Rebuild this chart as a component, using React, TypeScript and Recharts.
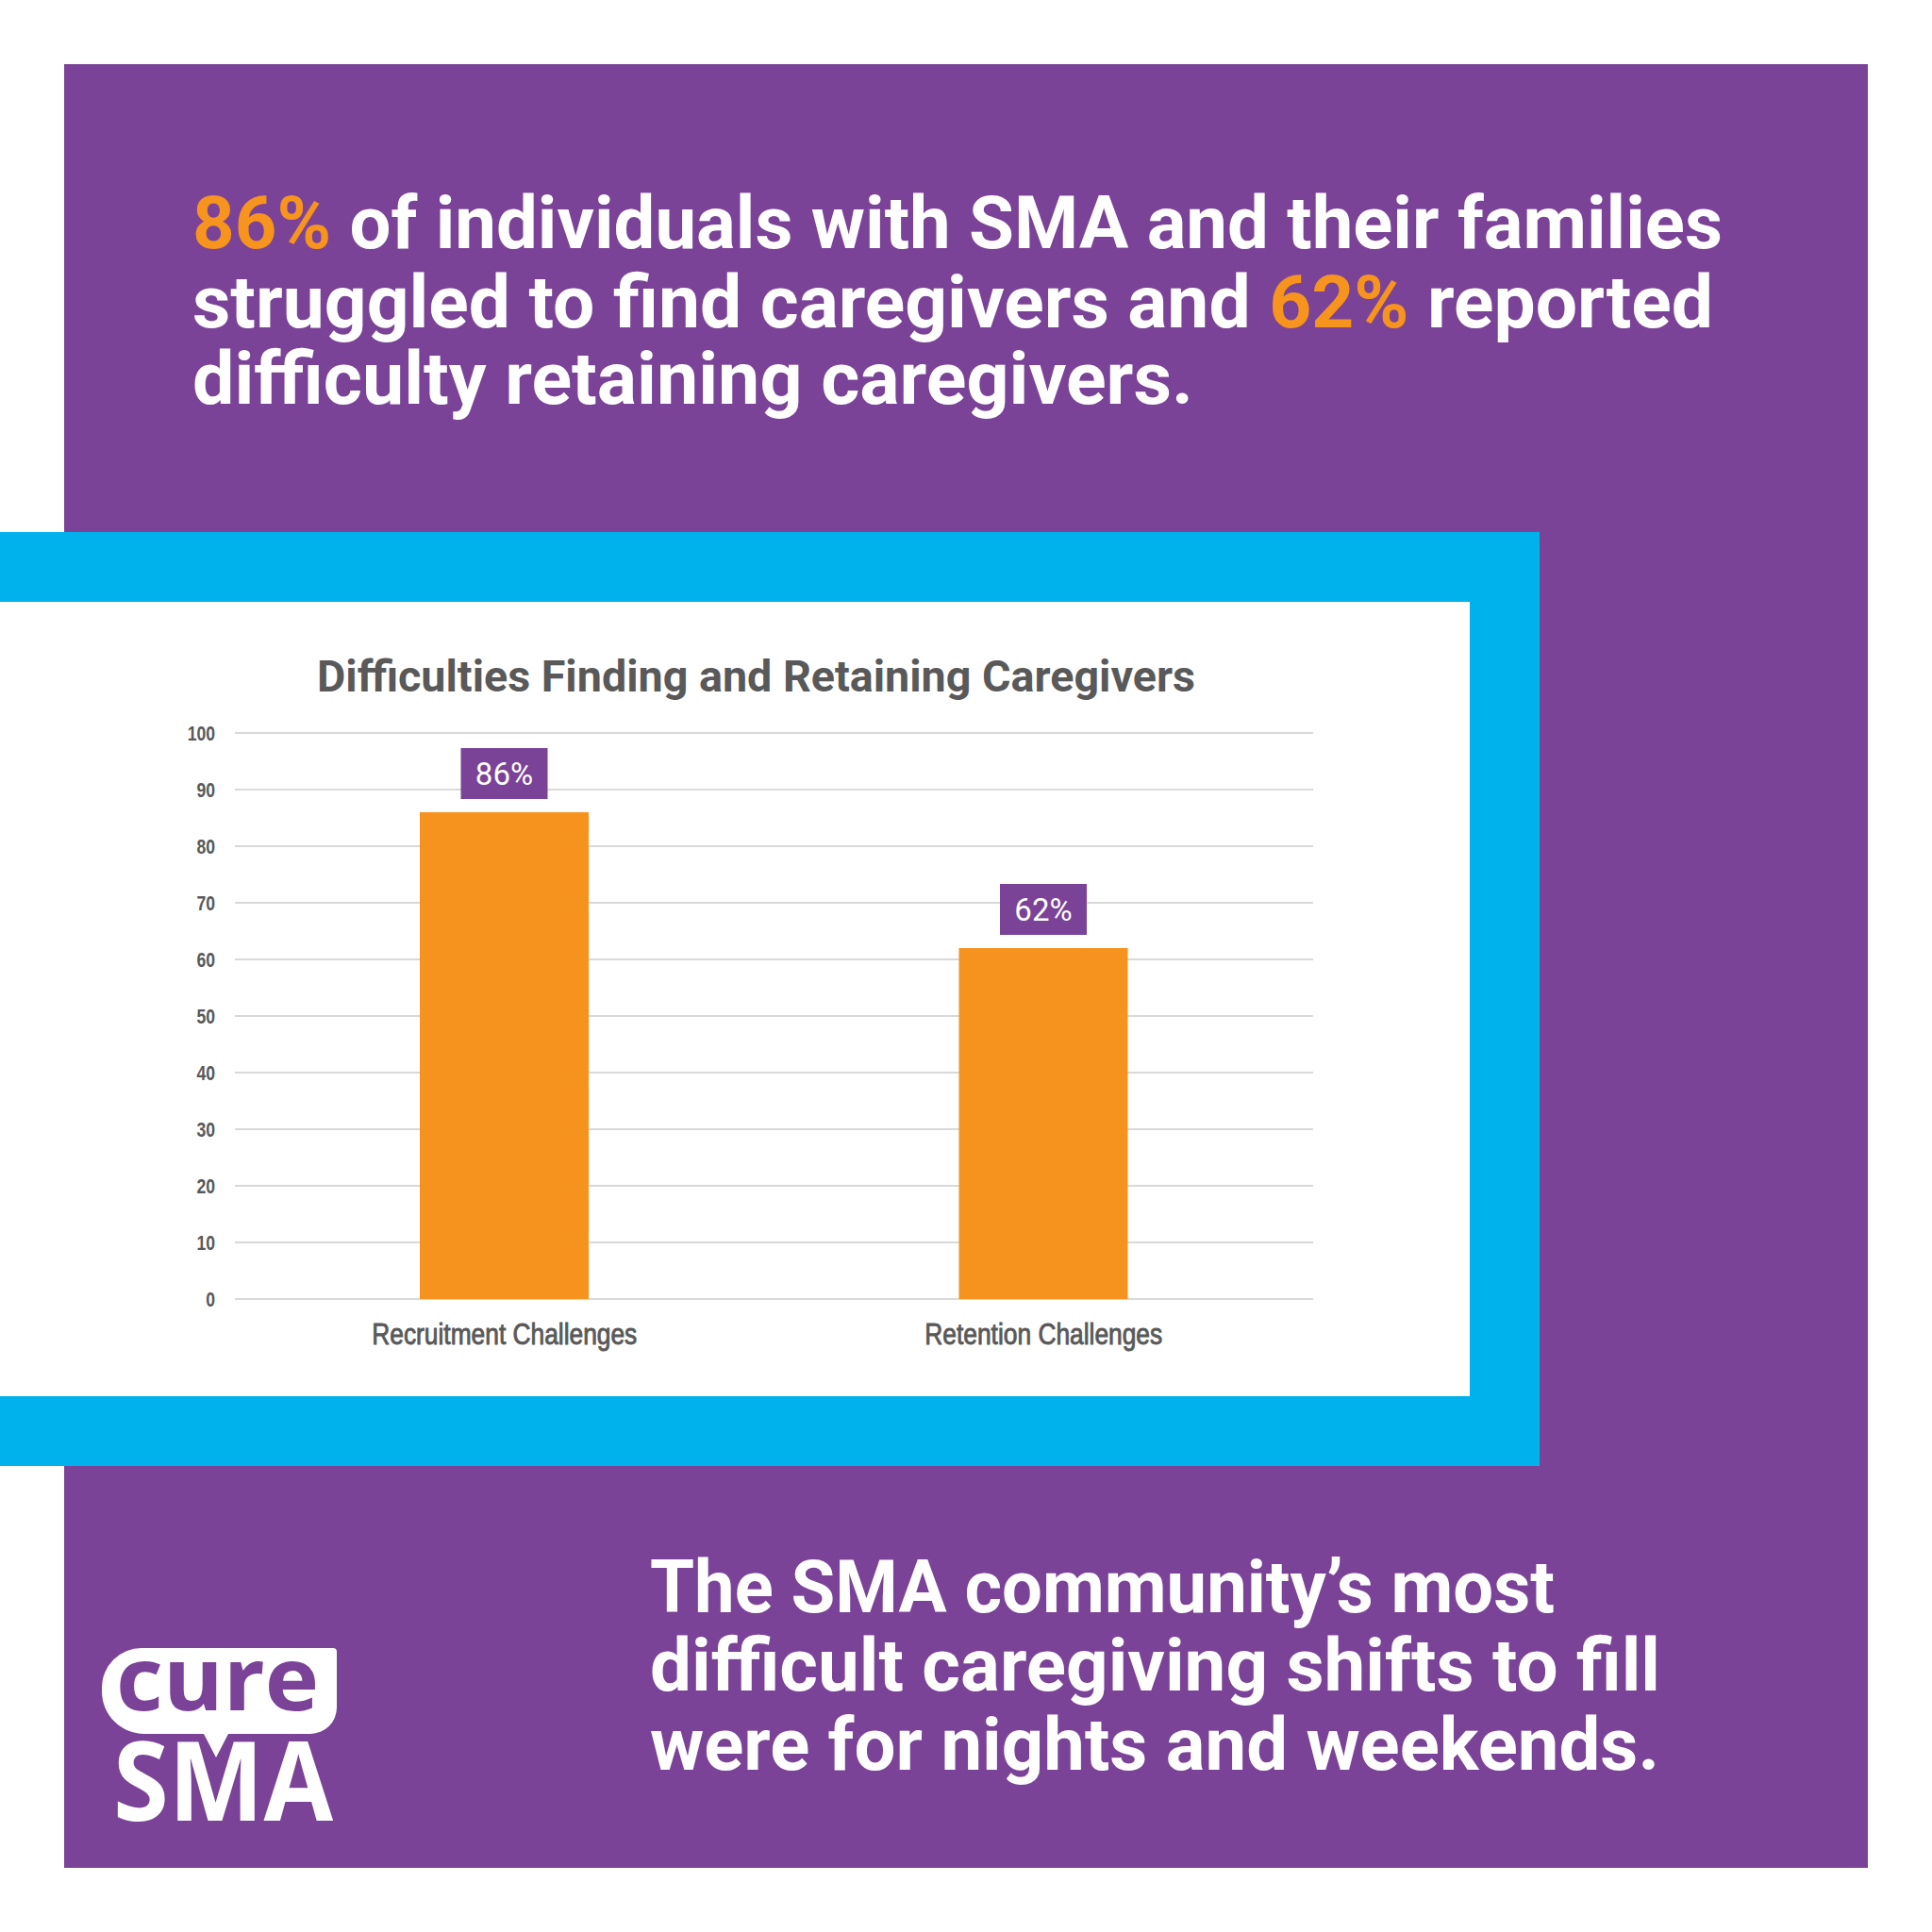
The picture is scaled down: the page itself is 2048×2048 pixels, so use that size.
import React from 'react';
import { BarChart, Bar, XAxis, YAxis, CartesianGrid, LabelList } from 'recharts';

const categories = ['Recruitment Challenges', 'Retention Challenges'];
const values = [86, 62];
const yTicks = [0, 10, 20, 30, 40, 50, 60, 70, 80, 90, 100];
const chartTitle = 'Difficulties Finding and Retaining Caregivers';

const data = categories.map((name, i) => ({ name, value: values[i] }));

const PURPLE = '#7B4397';
const ORANGE = '#F6921E';
const ORANGE_TEXT = '#F7941D';
const BLUE = '#00B2EC';
const GREY = '#595959';
const GRID = '#D9D9D9';

const YTick = (props: any) => {
  const { x, y, payload } = props;
  return (
    <g transform={`translate(${x},${y})`}>
      <text
        transform="scale(0.8,1)"
        textAnchor="end"
        dy="0.36em"
        fontFamily="'Liberation Sans', Arial, sans-serif"
        fontWeight={700}
        fontSize={22}
        fill={GREY}
      >
        {payload.value}
      </text>
    </g>
  );
};

const XTick = (props: any) => {
  const { x, y, payload } = props;
  return (
    <g transform={`translate(${x},${y})`}>
      <text
        transform="scale(0.85,1)"
        textAnchor="middle"
        dy="0.71em"
        fontFamily="'Liberation Sans', Arial, sans-serif"
        fontWeight={400}
        fontSize={31}
        fill={GREY}
        stroke={GREY}
        strokeWidth={0.9}
      >
        {payload.value}
      </text>
    </g>
  );
};

const ValueLabel = (props: any) => {
  const { x, y, width, value } = props;
  const cx = Number(x) + Number(width) / 2;
  const bw = 92;
  const bh = 54;
  const bottom = Number(y) - 14;
  return (
    <g>
      <rect x={cx - bw / 2} y={bottom - bh} width={bw} height={bh} fill={PURPLE} />
      <text
        x={cx}
        y={bottom - 15}
        textAnchor="middle"
        fill="#FFFFFF"
        fontFamily="Roboto, sans-serif"
        fontSize={33}
      >
        {`${value}%`}
      </text>
    </g>
  );
};

const headFont = "Roboto, 'Open Sans', sans-serif";

export default function App() {
  return (
    <div style={{ position: 'absolute', left: 0, top: 0, width: 2048, height: 2048, background: '#FFFFFF', overflow: 'hidden' }}>
      <svg width={2048} height={2048} style={{ position: 'absolute', left: 0, top: 0 }}>
        <rect x={68} y={68} width={1912} height={1912} fill={PURPLE} />
        <rect x={0} y={564} width={1632} height={990} fill={BLUE} />
        <rect x={0} y={638} width={1558} height={842} fill="#FFFFFF" />
      </svg>

      <div style={{ position: 'absolute', left: 0, top: 638, width: 1558, height: 842 }}>
        <BarChart
          width={1558}
          height={842}
          data={data}
          margin={{ top: 139, right: 166, bottom: 43, left: 189 }}
        >
          <CartesianGrid vertical={false} stroke={GRID} strokeWidth={2} />
          <XAxis
            dataKey="name"
            axisLine={false}
            tickLine={false}
            tickSize={0}
            tickMargin={26}
            height={60}
            interval={0}
            tick={<XTick />}
          />
          <YAxis
            domain={[0, 100]}
            ticks={yTicks}
            interval={0}
            axisLine={false}
            tickLine={false}
            tickSize={0}
            tickMargin={21}
            width={60}
            tick={<YTick />}
          />
          <Bar dataKey="value" fill={ORANGE} barSize={179} isAnimationActive={false}>
            <LabelList dataKey="value" content={<ValueLabel />} />
          </Bar>
        </BarChart>
      </div>

      <svg width={2048} height={2048} style={{ position: 'absolute', left: 0, top: 0, pointerEvents: 'none' }}>
        <text x={204} y={263} textLength={1622} lengthAdjust="spacingAndGlyphs" fontFamily={headFont} fontWeight={700} fontSize={77} fill="#FFFFFF">
          <tspan fill={ORANGE_TEXT}>86%</tspan> of individuals with SMA and their families
        </text>
        <text x={204} y={347} textLength={1612} lengthAdjust="spacingAndGlyphs" fontFamily={headFont} fontWeight={700} fontSize={77} fill="#FFFFFF">
          struggled to find caregivers and <tspan fill={ORANGE_TEXT}>62%</tspan> reported
        </text>
        <text x={204} y={428} textLength={1061} lengthAdjust="spacingAndGlyphs" fontFamily={headFont} fontWeight={700} fontSize={77} fill="#FFFFFF">
          difficulty retaining caregivers.
        </text>

        <text x={336} y={733} textLength={931} lengthAdjust="spacingAndGlyphs" fontFamily={headFont} fontWeight={700} fontSize={46} fill={GREY}>
          {chartTitle}
        </text>

        <text x={689} y={1709} textLength={959} lengthAdjust="spacingAndGlyphs" fontFamily={headFont} fontWeight={700} fontSize={78} fill="#FFFFFF">
          The SMA community’s most
        </text>
        <text x={689} y={1792} textLength={1071} lengthAdjust="spacingAndGlyphs" fontFamily={headFont} fontWeight={700} fontSize={78} fill="#FFFFFF">
          difficult caregiving shifts to fill
        </text>
        <text x={689} y={1876} textLength={1070} lengthAdjust="spacingAndGlyphs" fontFamily={headFont} fontWeight={700} fontSize={78} fill="#FFFFFF">
          were for nights and weekends.
        </text>

        <path
          d="M 150 1747 H 353 A 4 4 0 0 1 357 1751 V 1810 A 28 28 0 0 1 329 1838 H 242 L 229 1863 L 216 1838 H 153 A 45 45 0 0 1 108 1793 V 1789 A 42 42 0 0 1 150 1747 Z"
          fill="#FFFFFF"
        />
        <text x={123} y={1813} textLength={215} lengthAdjust="spacingAndGlyphs" fontFamily="'Open Sans', sans-serif" fontWeight={700} fontSize={94} fill={PURPLE}>
          cure
        </text>
        <text x={120} y={1930} textLength={233} lengthAdjust="spacingAndGlyphs" fontFamily="'Open Sans', sans-serif" fontWeight={700} fontSize={116} fill="#FFFFFF">
          SMA
        </text>
      </svg>
    </div>
  );
}
